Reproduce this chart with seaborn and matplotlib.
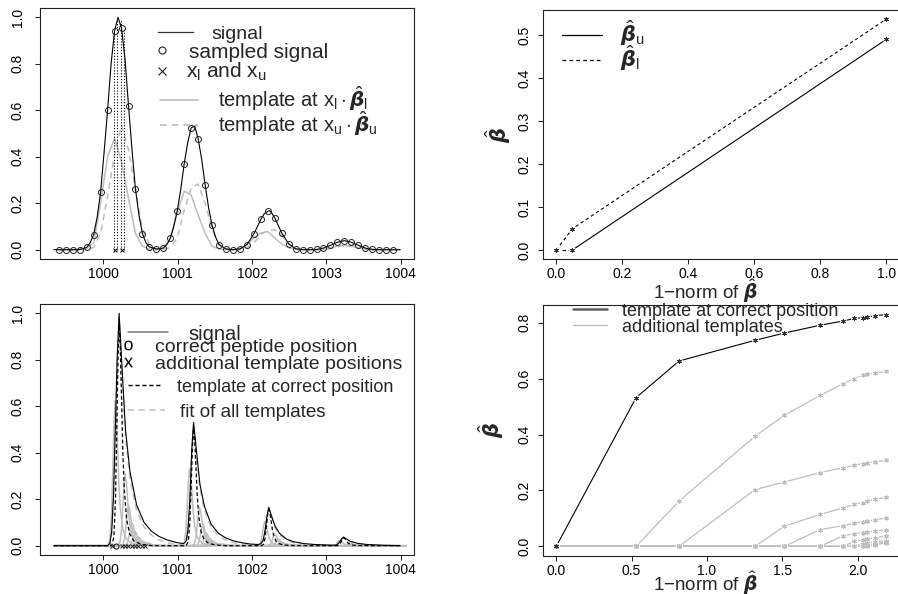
import numpy as np
import pandas as pd
import seaborn as sns
import matplotlib
matplotlib.use("Agg")
import matplotlib.pyplot as plt
from matplotlib.lines import Line2D
from matplotlib.transforms import IdentityTransform

# ---------------- data: top-left (sampled signal and two templates) ----------------
sample_x = [999.405, 999.499, 999.592, 999.686, 999.779, 999.873, 999.966, 1000.060,
            1000.154, 1000.247, 1000.341, 1000.434, 1000.528, 1000.621, 1000.715, 1000.809,
            1000.902, 1000.996, 1001.089, 1001.183, 1001.276, 1001.370, 1001.463, 1001.557,
            1001.651, 1001.744, 1001.838, 1001.931, 1002.025, 1002.118, 1002.212, 1002.305,
            1002.399, 1002.493, 1002.586, 1002.680, 1002.773, 1002.867, 1002.960, 1003.054,
            1003.147, 1003.241, 1003.334, 1003.428, 1003.521, 1003.615, 1003.709, 1003.802,
            1003.896]
sample_y = [0, 0, 0, 0, 0.01, 0.065, 0.247, 0.60, 0.942, 0.954, 0.62, 0.262, 0.069, 0.012,
            0.003, 0.007, 0.05, 0.168, 0.37, 0.525, 0.478, 0.28, 0.105, 0.022, 0.003, 0.0,
            0.003, 0.022, 0.068, 0.13, 0.165, 0.137, 0.072, 0.025, 0.004, 0, 0, 0.001, 0.007,
            0.019, 0.032, 0.039, 0.032, 0.019, 0.007, 0.001, 0, 0, 0]

signal_x = [999.338, 999.405, 999.499, 999.592, 999.686, 999.779, 999.826, 999.873, 999.92,
            999.966, 1000.013, 1000.06, 1000.107, 1000.154, 1000.20, 1000.247, 1000.294,
            1000.341, 1000.388, 1000.434, 1000.481, 1000.528, 1000.575, 1000.621, 1000.715,
            1000.809, 1000.856, 1000.902, 1000.949, 1000.996, 1001.043, 1001.089, 1001.136,
            1001.183, 1001.23, 1001.276, 1001.323, 1001.37, 1001.417, 1001.463, 1001.51,
            1001.557, 1001.651, 1001.744, 1001.838, 1001.931, 1002.025, 1002.118, 1002.165,
            1002.212, 1002.235, 1002.26, 1002.305, 1002.399, 1002.493, 1002.586, 1002.68,
            1002.773, 1002.867, 1002.96, 1003.054, 1003.147, 1003.241, 1003.334, 1003.428,
            1003.521, 1003.615, 1003.709, 1003.802, 1003.896, 1003.99]
signal_y = [0, 0, 0, 0, 0.001, 0.01, 0.03, 0.065, 0.14, 0.247, 0.42, 0.60, 0.80, 0.942, 1.0,
            0.954, 0.82, 0.62, 0.43, 0.262, 0.15, 0.069, 0.03, 0.012, 0.003, 0.007, 0.022,
            0.05, 0.10, 0.168, 0.26, 0.37, 0.46, 0.525, 0.532, 0.478, 0.39, 0.28, 0.18, 0.105,
            0.055, 0.022, 0.003, 0.0, 0.003, 0.022, 0.068, 0.13, 0.155, 0.165, 0.168, 0.16,
            0.137, 0.072, 0.025, 0.004, 0, 0, 0.001, 0.007, 0.019, 0.032, 0.039, 0.032, 0.019,
            0.007, 0.001, 0, 0, 0, 0]

template_x = sample_x + [1003.99]
template_l = [0, 0, 0, 0, 0.005, 0.03, 0.20, 0.40, 0.48, 0.38, 0.22, 0.07, 0.015, 0.002, 0,
              0.005, 0.045, 0.16, 0.252, 0.235, 0.15, 0.07, 0.015, 0.003, 0, 0, 0.005, 0.02,
              0.05, 0.072, 0.078, 0.05, 0.025, 0.008, 0.002, 0, 0, 0, 0.002, 0.008, 0.015,
              0.018, 0.015, 0.008, 0.003, 0, 0, 0, 0, 0]
template_u = [0, 0, 0, 0, 0, 0.01, 0.07, 0.23, 0.41, 0.535, 0.43, 0.26, 0.09, 0.02, 0.003, 0,
              0.01, 0.05, 0.17, 0.265, 0.283, 0.2, 0.09, 0.02, 0.003, 0, 0, 0.008, 0.03,
              0.065, 0.083, 0.086, 0.06, 0.025, 0.005, 0, 0, 0, 0, 0.005, 0.012, 0.018, 0.02,
              0.015, 0.008, 0.002, 0, 0, 0, 0]

xl_xu = [1000.154, 1000.247]
xl_xu_y = [0, 0]
dotted_x = [1000.151, 1000.188, 1000.241, 1000.276]
dotted_top = [0.94, 0.99, 0.99, 0.955]

# ---------------- data: top-right (path of beta_u, beta_l) ----------------
norm_tr = [0, 0.049, 1.0]
beta_u = [0, 0, 0.49]
beta_l = [0, 0.0496, 0.537]

# ---------------- data: bottom-left (signal, templates) ----------------
bl_range = [999.338, 1003.99]
bl_x = [999.338, 1000.06, 1000.09, 1000.115, 1000.14, 1000.165, 1000.19, 1000.215, 1000.25,
        1000.30, 1000.36, 1000.45, 1000.55, 1000.65, 1000.75, 1000.86, 1000.98, 1001.08,
        1001.115, 1001.14, 1001.165, 1001.19, 1001.215, 1001.25, 1001.30, 1001.36, 1001.45,
        1001.55, 1001.65, 1001.75, 1001.86, 1001.98, 1002.09, 1002.125, 1002.15, 1002.175,
        1002.2, 1002.225, 1002.26, 1002.31, 1002.37, 1002.46, 1002.56, 1002.7, 1002.85,
        1003.1, 1003.13, 1003.155, 1003.18, 1003.205, 1003.23, 1003.265, 1003.32, 1003.42,
        1003.55, 1003.75, 1003.99]
bl_signal = [0, 0, 0.01, 0.06, 0.22, 0.52, 0.82, 1.0, 0.79, 0.50, 0.32, 0.175, 0.10, 0.062,
             0.04, 0.025, 0.014, 0.009, 0.02, 0.07, 0.2, 0.41, 0.53, 0.42, 0.265, 0.17, 0.093,
             0.053, 0.033, 0.021, 0.013, 0.007, 0.005, 0.01, 0.025, 0.065, 0.125, 0.165, 0.13,
             0.084, 0.053, 0.029, 0.017, 0.009, 0.005, 0.002, 0.003, 0.008, 0.018, 0.03, 0.037,
             0.03, 0.019, 0.01, 0.005, 0.002, 0]
bl_fit = [0, 0, 0.005, 0.05, 0.2, 0.55, 0.8, 0.98, 0.76, 0.47, 0.29, 0.15, 0.08, 0.045, 0.025,
          0.013, 0.006, 0.003, 0.015, 0.06, 0.19, 0.4, 0.52, 0.4, 0.25, 0.155, 0.08, 0.043,
          0.024, 0.013, 0.007, 0.003, 0.002, 0.008, 0.022, 0.06, 0.12, 0.16, 0.125, 0.078,
          0.047, 0.024, 0.012, 0.005, 0.002, 0.001, 0.002, 0.007, 0.017, 0.029, 0.036, 0.029,
          0.017, 0.008, 0.003, 0.001, 0]

# single template peak shape (offset from template position) and isotope pattern
peak_off = [-0.055, -0.025, -0.005, 0.015, 0.03, 0.045, 0.06, 0.075, 0.095, 0.115, 0.145,
            0.185, 0.245, 0.345, 0.495]
peak_val = [0.0, 0.04, 0.2, 0.55, 0.85, 1.0, 0.9, 0.7, 0.42, 0.25, 0.12, 0.055, 0.02, 0.006, 0.0]
iso_off = [0.0, 1.0, 2.01, 3.015]
iso_rel = [1.0, 0.53, 0.165, 0.037]

correct_pos = [1000.17]
correct_height = [0.95]
additional_pos = [1000.117, 1000.25, 1000.295, 1000.34, 1000.385, 1000.43, 1000.475,
                  1000.52, 1000.565]

# ---------------- data: bottom-right (coefficient paths) ----------------
norm_br = [0, 0.53, 0.815, 1.32, 1.515, 1.752, 1.906, 1.978, 2.033, 2.06, 2.113, 2.191]
coef_correct = [0, 0.532, 0.663, 0.737, 0.763, 0.791, 0.806, 0.815, 0.818, 0.82, 0.825, 0.829]
coef_add = [
    [0, 0, 0.162, 0.394, 0.469, 0.54, 0.582, 0.6, 0.612, 0.615, 0.62, 0.626],
    [0, 0, 0, 0.203, 0.23, 0.264, 0.281, 0.29, 0.296, 0.298, 0.302, 0.308],
    [0, 0, 0, 0, 0.072, 0.114, 0.138, 0.15, 0.156, 0.161, 0.168, 0.175],
    [0, 0, 0, 0, 0, 0.06, 0.074, 0.083, 0.087, 0.089, 0.095, 0.101],
    [0, 0, 0, 0, 0, 0, 0.038, 0.045, 0.049, 0.05, 0.054, 0.06],
    [0, 0, 0, 0, 0, 0, 0, 0.018, 0.022, 0.025, 0.03, 0.038],
    [0, 0, 0, 0, 0, 0, 0, 0, 0.008, 0.012, 0.016, 0.02],
    [0, 0, 0, 0, 0, 0, 0, 0, 0, 0.005, 0.01, 0.015],
    [0, 0, 0, 0, 0, 0, 0, 0, 0, 0, 0.005, 0.012],
]

# ---------------- style ----------------
sns.set_theme(style="ticks")
plt.rcParams.update({
    "font.family": ["Liberation Sans", "DejaVu Sans"],
    "mathtext.fontset": "custom",
    "mathtext.rm": "Liberation Sans",
    "mathtext.it": "Liberation Sans:italic",
    "mathtext.bf": "Liberation Sans:bold",
    "axes.edgecolor": "black",
    "axes.linewidth": 0.8,
    "axes.facecolor": "white",
    "figure.facecolor": "white",
})

GREY = "#bebebe"
BLACK = "black"
W, H = 898, 594
fig = plt.figure(figsize=(8.98, 5.94), dpi=100)


def box(l, t, r, b):
    return [l / W, 1 - b / H, (r - l) / W, (b - t) / H]


ax_tl = fig.add_axes(box(40, 8, 414, 259))
ax_tr = fig.add_axes(box(543.1, 9.9, 899.5, 259.2))
ax_bl = fig.add_axes(box(40, 304, 414, 555))
ax_br = fig.add_axes(box(543.1, 305.3, 899.5, 555.6))


def line(ax, x, y, **kw):
    sns.lineplot(x=list(x), y=list(y), ax=ax, sort=False, estimator=None, legend=False, **kw)


def pts(ax, x, y, **kw):
    sns.lineplot(x=list(x), y=list(y), ax=ax, sort=False, estimator=None, legend=False,
                 linestyle="none", **kw)


ASTER = (6, 2, 0)

# ---------- top-left ----------
ax = ax_tl
line(ax, template_x, template_l, color=GREY, linewidth=1.1)
line(ax, template_x, template_u, color=GREY, linewidth=1.1, linestyle=(0, (4, 3)))
line(ax, signal_x, signal_y, color=BLACK, linewidth=0.8)
pts(ax, sample_x, sample_y, marker="o", markersize=4.3, markerfacecolor="none",
    markeredgecolor="#222222", markeredgewidth=0.7)
ax.vlines(dotted_x, 0, dotted_top, colors=BLACK, linestyles=(0, (1, 1.6)), linewidth=0.8)
pts(ax, xl_xu, xl_xu_y, marker="x", markersize=3.2, markeredgecolor=BLACK,
    markeredgewidth=0.7, color=BLACK)
ax.set_xlim(999.152, 1004.176)
ax.set_ylim(-0.04, 1.04)
ax.set_xticks([1000, 1001, 1002, 1003, 1004])
ax.set_yticks([0.0, 0.2, 0.4, 0.6, 0.8, 1.0])
ax.set_yticklabels(["0.0", "0.2", "0.4", "0.6", "0.8", "1.0"])

# ---------- top-right ----------
ax = ax_tr
line(ax, norm_tr, beta_l, color=BLACK, linewidth=0.8, linestyle=(0, (3, 2.5)))
line(ax, norm_tr[:2], beta_u[:2], color=BLACK, linewidth=0.8, linestyle=(0, (3, 2.5)))
line(ax, norm_tr[1:], beta_u[1:], color=BLACK, linewidth=0.8)
for b in (beta_u, beta_l):
    pts(ax, norm_tr, b, marker="o", markersize=5, markerfacecolor="white",
        markeredgecolor="none")
    pts(ax, norm_tr, b, marker=ASTER, markersize=3.5, markeredgecolor="#333333",
        markeredgewidth=0.7, color="#333333")
ax.set_xlim(-0.04, 1.04)
ax.set_ylim(-0.0215, 0.5585)
ax.set_xticks([0.0, 0.2, 0.4, 0.6, 0.8, 1.0])
ax.set_xticklabels(["0.0", "0.2", "0.4", "0.6", "0.8", "1.0"])
ax.set_yticks([0.0, 0.1, 0.2, 0.3, 0.4, 0.5])
ax.set_yticklabels(["0.0", "0.1", "0.2", "0.3", "0.4", "0.5"])

# ---------- bottom-left ----------
ax = ax_bl


def template_curve(pos, h):
    xs, ys = [bl_range[0]], [0.0]
    for off, rel in zip(iso_off, iso_rel):
        xs += [pos + off + d for d in peak_off]
        ys += [h * rel * v for v in peak_val]
    xs.append(bl_range[1])
    ys.append(0.0)
    return xs, ys


for pos, path in zip(additional_pos, coef_add):
    tx, ty = template_curve(pos, path[-1])
    line(ax, tx, ty, color=GREY, linewidth=1.1)
line(ax, bl_x, bl_fit, color=GREY, linewidth=1.1, linestyle=(0, (4, 3)))
line(ax, bl_x, bl_signal, color=BLACK, linewidth=0.8)
cx, cy = template_curve(correct_pos[0], correct_height[0])
line(ax, cx, cy, color=BLACK, linewidth=0.9, linestyle=(0, (3, 2)))
pts(ax, additional_pos, [0] * len(additional_pos), marker="x", markersize=3.3,
    markeredgecolor="#222222", markeredgewidth=0.7, color="#222222")
pts(ax, correct_pos, [0], marker="o", markersize=3.6, markerfacecolor="none",
    markeredgecolor="#222222", markeredgewidth=0.8)
ax.set_xlim(999.152, 1004.176)
ax.set_ylim(-0.04, 1.04)
ax.set_xticks([1000, 1001, 1002, 1003, 1004])
ax.set_yticks([0.0, 0.2, 0.4, 0.6, 0.8, 1.0])
ax.set_yticklabels(["0.0", "0.2", "0.4", "0.6", "0.8", "1.0"])

# ---------- bottom-right ----------
ax = ax_br
for path in coef_add:
    line(ax, norm_br, path, color=GREY, linewidth=0.9)
line(ax, norm_br, coef_correct, color=BLACK, linewidth=0.8)
for path in coef_add:
    pts(ax, norm_br, path, marker="o", markersize=5, markerfacecolor="white",
        markeredgecolor="none")
pts(ax, norm_br, coef_correct, marker="o", markersize=5, markerfacecolor="white",
    markeredgecolor="none")
for path in coef_add:
    pts(ax, norm_br, path, marker=ASTER, markersize=3.5, markeredgecolor=GREY,
        markeredgewidth=0.8, color=GREY)
pts(ax, norm_br, coef_correct, marker=ASTER, markersize=3.5, markeredgecolor="#333333",
    markeredgewidth=0.7, color="#333333")
ax.set_xlim(-0.0876, 2.2786)
ax.set_ylim(-0.0332, 0.8622)
ax.set_xticks([0.0, 0.5, 1.0, 1.5, 2.0])
ax.set_xticklabels(["0.0", "0.5", "1.0", "1.5", "2.0"])
ax.set_yticks([0.0, 0.2, 0.4, 0.6, 0.8])
ax.set_yticklabels(["0.0", "0.2", "0.4", "0.6", "0.8"])

# ---------- axes cosmetics ----------
TICK_FAMILY = ["Liberation Sans Narrow", "Liberation Sans", "DejaVu Sans"]
for a, ypad in ((ax_tl, 7.5), (ax_bl, 7.5), (ax_tr, 4.5), (ax_br, 4.5)):
    for s in a.spines.values():
        s.set_visible(True)
        s.set_linewidth(0.8)
        s.set_color("#222222")
    a.tick_params(axis="both", direction="out", length=3.6, width=0.75, colors="#222222",
                  labelsize=10, labelcolor="black")
    a.tick_params(axis="x", pad=2.2)
    a.tick_params(axis="y", pad=ypad)
    for lab in a.get_yticklabels():
        lab.set_rotation(90)
        lab.set_va("center")
        lab.set_fontfamily(TICK_FAMILY)
    for lab in a.get_xticklabels():
        lab.set_fontfamily(TICK_FAMILY)
    a.set_xlabel("")
    a.set_ylabel("")

BETA = r"$\hat{\boldsymbol{\beta}}$"
for a, ylx, xly in ((ax_tr, -0.1265, -0.158), (ax_br, -0.147, -0.140)):
    a.set_xlabel("1\u2212norm of " + BETA, fontsize=13.5)
    a.xaxis.set_label_coords(0.455, xly)
    a.xaxis.label.set_va("baseline")
    a.set_ylabel(BETA, fontsize=15)
    a.yaxis.set_label_coords(ylx, 0.5)
    a.yaxis.label.set_va("center")


# ---------- legends (one entry each, placed in figure pixels) ----------
def key(handle, label, hx, hy, hlen, tx, fs):
    fs_px = fs * 100 / 72
    fig.legend([handle], [label], loc="center left", bbox_to_anchor=(hx, H - hy),
               bbox_transform=IdentityTransform(), frameon=False, borderpad=0,
               borderaxespad=0, handlelength=hlen / fs_px,
               handletextpad=(tx - hx - hlen) / fs_px, fontsize=fs, handleheight=0.7)


# top-left
key(Line2D([], [], color="#333333", lw=0.9), "signal", 158, 34, 35, 211, 14)
key(Line2D([], [], ls="none", marker="o", ms=5, mfc="none", mec="#222222", mew=0.8),
    "sampled signal", 157, 52, 10, 189, 15)
key(Line2D([], [], ls="none", marker="x", ms=5.5, mec="#222222", mew=0.8),
    r"$\mathrm{x}_\mathrm{l}$ and $\mathrm{x}_\mathrm{u}$", 157, 72, 10, 186, 15)
key(Line2D([], [], color=GREY, lw=1.2),
    r"template at $\mathrm{x}_\mathrm{l}\cdot\hat{\boldsymbol{\beta}}_\mathrm{l}$",
    160, 99, 38, 218, 14.5)
key(Line2D([], [], color=GREY, lw=1.2, ls=(0, (4, 3))),
    r"template at $\mathrm{x}_\mathrm{u}\cdot\hat{\boldsymbol{\beta}}_\mathrm{u}$",
    160, 124, 38, 218, 14.5)

# top-right
key(Line2D([], [], color=BLACK, lw=0.9), r"$\hat{\boldsymbol{\beta}}_\mathrm{u}$",
    562, 33, 40, 620, 15)
key(Line2D([], [], color=BLACK, lw=0.9, ls=(0, (3, 2.5))),
    r"$\hat{\boldsymbol{\beta}}_\mathrm{l}$", 562, 58, 38, 620, 15)

# bottom-left
key(Line2D([], [], color="#777777", lw=1.1), "signal", 128, 334, 40, 188, 14.5)
key(Line2D([], [], ls="none", marker=r"$\mathrm{o}$", ms=7, mec="none", mfc="black",
           mew=0), "correct peptide position", 122, 347, 11, 155, 14)
key(Line2D([], [], ls="none", marker=r"$\mathrm{x}$", ms=7, mec="none", mfc="black",
           mew=0), "additional template positions", 122, 364, 11, 155, 14)
key(Line2D([], [], color=BLACK, lw=1.0, ls=(0, (3, 2))), "template at correct position",
    128, 387, 34, 177, 13)
key(Line2D([], [], color=GREY, lw=1.1, ls=(0, (4, 3))), "fit of all templates",
    128, 412, 37, 180, 13.5)

# bottom-right
key(Line2D([], [], color="#606060", lw=1.8), "template at correct position",
    573, 311, 34, 622, 13)
key(Line2D([], [], color=GREY, lw=1.0), "additional templates", 573, 327, 34, 622, 13)

fig.savefig("out.png", dpi=100)
